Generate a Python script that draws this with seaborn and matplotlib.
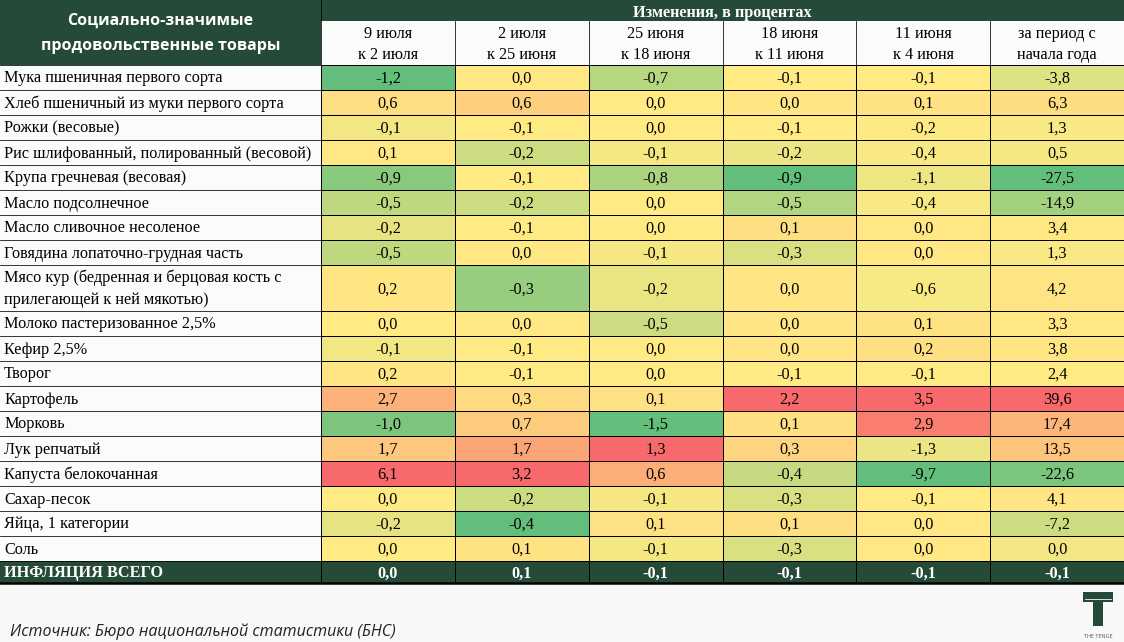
import numpy as np
import matplotlib
matplotlib.use("Agg")
import matplotlib.pyplot as plt
from matplotlib.colors import LinearSegmentedColormap, ListedColormap
import seaborn as sns

# ---- data -------------------------------------------------------------
products = [
    "Мука пшеничная первого сорта",
    "Хлеб пшеничный из муки первого сорта",
    "Рожки (весовые)",
    "Рис шлифованный, полированный (весовой)",
    "Крупа гречневая (весовая)",
    "Масло подсолнечное",
    "Масло сливочное несоленое",
    "Говядина лопаточно-грудная часть",
    "Мясо кур (бедренная и берцовая кость с\nприлегающей к ней мякотью)",
    "Молоко пастеризованное 2,5%",
    "Кефир 2,5%",
    "Творог",
    "Картофель",
    "Морковь",
    "Лук репчатый",
    "Капуста белокочанная",
    "Сахар-песок",
    "Яйца, 1 категории",
    "Соль",
]
periods = ["9 июля\nк 2 июля", "2 июля\nк 25 июня", "25 июня\nк 18 июня",
           "18 июня\nк 11 июня", "11 июня\nк 4 июня", "за период с\nначала года"]

jul9 = [-1.2, 0.6, -0.1, 0.1, -0.9, -0.5, -0.2, -0.5, 0.2, 0.0, -0.1, 0.2, 2.7, -1.0, 1.7, 6.1, 0.0, -0.2, 0.0]
jul2 = [0.0, 0.6, -0.1, -0.2, -0.1, -0.2, -0.1, 0.0, -0.3, 0.0, -0.1, -0.1, 0.3, 0.7, 1.7, 3.2, -0.2, -0.4, 0.1]
jun25 = [-0.7, 0.0, 0.0, -0.1, -0.8, 0.0, 0.0, -0.1, -0.2, -0.5, 0.0, 0.0, 0.1, -1.5, 1.3, 0.6, -0.1, 0.1, -0.1]
jun18 = [-0.1, 0.0, -0.1, -0.2, -0.9, -0.5, 0.1, -0.3, 0.0, 0.0, 0.0, -0.1, 2.2, 0.1, 0.3, -0.4, -0.3, 0.1, -0.3]
jun11 = [-0.1, 0.1, -0.2, -0.4, -1.1, -0.4, 0.0, 0.0, -0.6, 0.1, 0.2, -0.1, 3.5, 2.9, -1.3, -9.7, -0.1, 0.0, 0.0]
ytd = [-3.8, 6.3, 1.3, 0.5, -27.5, -14.9, 3.4, 1.3, 4.2, 3.3, 3.8, 2.4, 39.6, 17.4, 13.5, -22.6, 4.1, -7.2, 0.0]
inflation = [0.0, 0.1, -0.1, -0.1, -0.1, -0.1]

# ---- layout (pixels) ---------------------------------------------------
W, H = 1124, 642
LABEL_W = 321
TOP_BAND = 20.5
HEAD_BOT = 64.5
row_h = [25] * 8 + [46] + [25] * 10
BODY_BOT = HEAD_BOT + sum(row_h)
INF_BOT = 582.5

DARK = "#264A38"
BG = "#F8F8F8"
CELL_BG = "#FBFBFB"
FS = 11.7
LW = 0.55

values = np.array([jul9, jul2, jun25, jun18, jun11, ytd]).T


def fmt(v):
    return f"{v:.1f}".replace(".", ",")


# excel-like 3 colour scale, per column: min -> green, median -> yellow, max -> red
def scale_column(col):
    lo, med, hi = col.min(), np.median(col), col.max()
    return np.where(col <= med,
                    0.5 * (col - lo) / (med - lo),
                    0.5 + 0.5 * (col - med) / (hi - med))


norm_vals = np.column_stack([scale_column(values[:, j]) for j in range(values.shape[1])])
annot = np.vectorize(fmt)(values)
cmap = LinearSegmentedColormap.from_list("gyr", ["#63BE7B", "#FFEB84", "#F8696B"])

serif = ["Liberation Serif", "DejaVu Serif"]
sans = ["Open Sans", "DejaVu Sans"]

fig = plt.figure(figsize=(W / 100, H / 100), dpi=100, facecolor=BG)

# background axes in pixel coordinates
bg = fig.add_axes([0, 0, 1, 1], zorder=0)
bg.set_xlim(0, W)
bg.set_ylim(H, 0)
bg.axis("off")

col_w = (W - LABEL_W) / len(periods)
col_edges = [LABEL_W + i * col_w for i in range(len(periods) + 1)]

# header
bg.add_patch(plt.Rectangle((0, 0), W, TOP_BAND, color=DARK, lw=0))
bg.add_patch(plt.Rectangle((LABEL_W, TOP_BAND), W - LABEL_W, HEAD_BOT - TOP_BAND, color=CELL_BG, lw=0))
bg.add_patch(plt.Rectangle((0, 0), LABEL_W, HEAD_BOT, color=DARK, lw=0))
bg.text(LABEL_W / 2, HEAD_BOT / 2 + 1, "Социально-значимые\nпродовольственные товары",
        ha="center", va="center", color="white", fontsize=11.5, fontweight="bold",
        family=sans, linespacing=1.75)
bg.text((LABEL_W + W) / 2, TOP_BAND / 2 + 1, "Изменения, в процентах", ha="center",
        va="center_baseline", color="white", fontsize=FS, fontweight="bold", family=serif)
for j, p in enumerate(periods):
    cx = (col_edges[j] + col_edges[j + 1]) / 2
    bg.text(cx, (TOP_BAND + HEAD_BOT) / 2 + 2, p, ha="center", va="center",
            fontsize=FS, family=serif, linespacing=1.4)
for x in col_edges[:-1]:
    top = 0 if x == LABEL_W else TOP_BAND
    bg.plot([x, x], [top, HEAD_BOT], color="black", lw=LW)
bg.plot([0, W], [HEAD_BOT, HEAD_BOT], color="black", lw=LW)

# label column
bg.add_patch(plt.Rectangle((0, HEAD_BOT), LABEL_W, BODY_BOT - HEAD_BOT, color=CELL_BG, lw=0))
y = HEAD_BOT
for name, h in zip(products, row_h):
    bg.text(4, y + h / 2 + 1.5, name, ha="left", va="center", fontsize=FS,
            family=serif, linespacing=1.5)
    y += h
    bg.plot([0, LABEL_W], [y, y], color="black", lw=LW)

# inflation row background + label
bg.add_patch(plt.Rectangle((0, BODY_BOT), W, INF_BOT - BODY_BOT, color=DARK, lw=0))
bg.text(4, (BODY_BOT + INF_BOT) / 2 + 1.5, "ИНФЛЯЦИЯ ВСЕГО", ha="left", va="center",
        color="white", fontsize=FS, fontweight="bold", family=serif)

# footer: source + small "T" logo
bg.text(10, 632, "Источник: Бюро национальной статистики (БНС)", ha="left", va="center",
        fontsize=11.5, style="italic", color="#222222", family=sans)
bg.add_patch(plt.Rectangle((1083, 592), 30, 10, color=DARK, lw=0))
bg.add_patch(plt.Rectangle((1093, 602), 10, 24, color=DARK, lw=0))
bg.plot([1085, 1111], [599, 599], color=BG, lw=0.6)
bg.text(1098, 636, "THE TENGE", ha="center", va="center", fontsize=4, color="#555555",
        family=sans)

annot_style = {"fontsize": FS, "family": serif, "va": "center_baseline"}

# main heatmap
ax = fig.add_axes([LABEL_W / W, 1 - BODY_BOT / H, (W - LABEL_W) / W, (BODY_BOT - HEAD_BOT) / H],
                  zorder=1)
sns.heatmap(norm_vals, ax=ax, cmap=cmap, vmin=0, vmax=1, annot=annot, fmt="",
            annot_kws={**annot_style, "color": "black"},
            linewidths=LW, linecolor="black", cbar=False,
            xticklabels=False, yticklabels=False)

# taller row for "Мясо кур": piecewise-linear y scale
idx = np.arange(len(row_h) + 1)
cum = np.concatenate([[0], np.cumsum(row_h)])
ax.set_yscale("function", functions=(lambda v: np.interp(v, idx, cum),
                                     lambda p: np.interp(p, cum, idx)))
ax.set_ylim(len(row_h), 0)
ax.set_yticks([])
ax.minorticks_off()

# inflation row
ax2 = fig.add_axes([LABEL_W / W, 1 - INF_BOT / H, (W - LABEL_W) / W, (INF_BOT - BODY_BOT) / H],
                   zorder=1)
inf_arr = np.array([inflation])
sns.heatmap(np.zeros_like(inf_arr), ax=ax2, cmap=ListedColormap([DARK]),
            annot=np.vectorize(fmt)(inf_arr), fmt="",
            annot_kws={**annot_style, "color": "white", "fontweight": "bold"},
            linewidths=LW, linecolor="black", cbar=False,
            xticklabels=False, yticklabels=False)

# overlay for the heavy bottom rule
top = fig.add_axes([0, 0, 1, 1], zorder=3)
top.set_xlim(0, W)
top.set_ylim(H, 0)
top.axis("off")
top.patch.set_alpha(0)
top.plot([0, W], [INF_BOT, INF_BOT], color="black", lw=1.8)
top.plot([LABEL_W, LABEL_W], [HEAD_BOT, INF_BOT], color="black", lw=LW)

fig.savefig("out.png", dpi=100, facecolor=BG)
